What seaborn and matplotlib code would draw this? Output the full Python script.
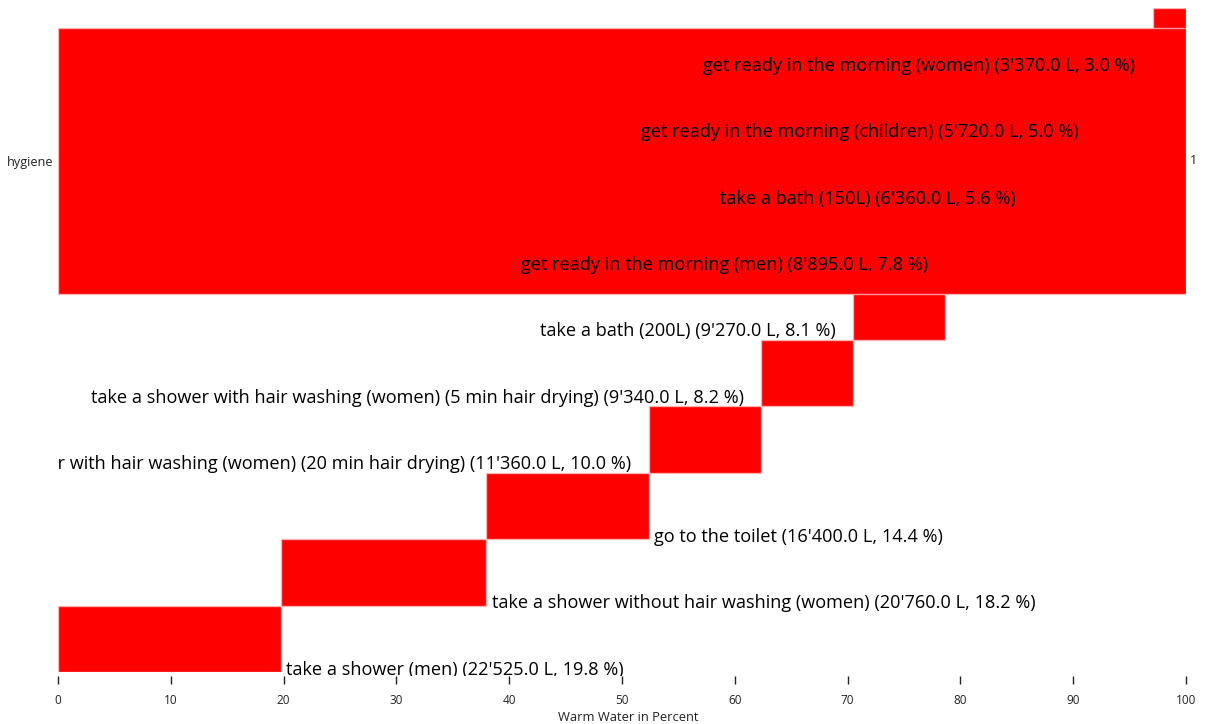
import numpy as np
import matplotlib
matplotlib.use("Agg")
import matplotlib.pyplot as plt
from matplotlib.transforms import Bbox
import seaborn as sns

# Warm water use per activity, ordered from largest to smallest
activities = [
    "take a shower (men)",
    "take a shower without hair washing (women)",
    "go to the toilet",
    "take a shower with hair washing (women) (20 min hair drying)",
    "take a shower with hair washing (women) (5 min hair drying)",
    "take a bath (200L)",
    "get ready in the morning (men)",
    "take a bath (150L)",
    "get ready in the morning (children)",
    "get ready in the morning (women)",
]
litres = [22525, 20760, 16400, 11360, 9340, 9270, 8895, 6360, 5720, 3370]
group_name = "hygiene"
group_label = "100 %"
x_ticks = [0, 10, 20, 30, 40, 50, 60, 70, 80, 90, 100]

sns.set_theme(style="white")
plt.rcParams["font.family"] = ["Open Sans", "DejaVu Sans"]

W, H = 1207, 724
fig = plt.figure(figsize=(W / 100, H / 100), dpi=100)
ax = fig.add_axes([58 / W, 52 / H, 1128 / W, 664 / H])

lit = np.array(litres, dtype=float)
pct = lit / lit.sum() * 100
starts = np.cumsum(pct) - pct
rows = np.arange(len(activities))

red = "#ff0000"
edge = (1, 0.75, 0.75, 0.8)

# staircase of activity bars
ax.barh(rows, pct, left=starts, height=1.0, align="edge",
        color=red, edgecolor=edge, linewidth=1.0, zorder=2)

# category bar spanning the whole share
ax.barh([7.7], [pct.sum()], left=0, height=4.0, align="center",
        color=red, edgecolor=edge, linewidth=1.0, zorder=3)

ax.set_xlim(0, 100)
ax.set_ylim(0, len(activities))

pos = ax.get_position()
clip = Bbox.from_extents(pos.x0 * W, pos.y0 * H - 4, pos.x1 * W, pos.y1 * H)


def swiss(value):
    return f"{value:,.1f}".replace(",", "'")


for i, (name, l, p, s) in enumerate(zip(activities, litres, pct, starts)):
    txt = f"{name} ({swiss(l)} L, {p:.1f} %)"
    if s + p / 2 < 50:
        t = ax.annotate(txt, xy=(s + p, i), xytext=(4.0, -1.8),
                        textcoords="offset points", ha="left", va="baseline",
                        fontsize=13.1, color="black", zorder=5)
    else:
        t = ax.annotate(txt, xy=(s, i), xytext=(-12.5, 2.6),
                        textcoords="offset points", ha="right", va="baseline",
                        fontsize=13.1, color="black", zorder=5)
    t.set_clip_on(True)
    t.set_clip_box(clip)

# total label to the right of the category bar
tr = ax.annotate(group_label, xy=(100, 7.7), xytext=(3, 0),
                 textcoords="offset points", ha="left", va="center",
                 fontsize=9, color="#222222", annotation_clip=False)
tr.set_clip_on(True)
tr.set_clip_box(Bbox.from_extents(0, 0, 1197, H))

ax.set_yticks([7.7])
ax.set_yticklabels([group_name])
ax.tick_params(axis="y", length=0, pad=3.3, labelsize=9.1, labelcolor="#222222")

ax.set_xticks(x_ticks)
ax.set_xticklabels([str(v) for v in x_ticks])
ax.tick_params(axis="x", bottom=True, direction="out", length=5.5, width=1,
               color="#222222", pad=7.5, labelsize=8.5, labelcolor="#222222")
ax.spines["bottom"].set_position(("outward", 3))
sns.despine(ax=ax, left=True, bottom=True, top=True, right=True)
ax.spines["bottom"].set_visible(False)
ax.set_xlabel("Warm Water in Percent", fontsize=9.3, color="#222222")
ax.xaxis.set_label_coords(0.5053, -0.058)

fig.savefig("out.png", dpi=100, facecolor="white")
